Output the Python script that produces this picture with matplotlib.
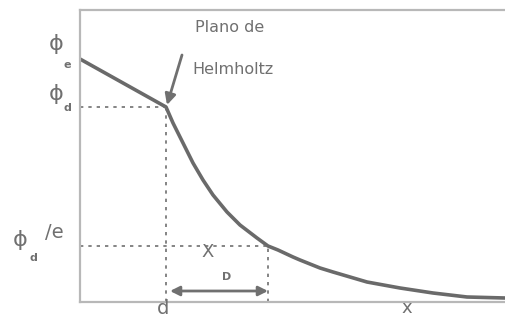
import matplotlib
matplotlib.use('Agg')
import matplotlib.pyplot as plt

# potential profile (distance, potential), arbitrary units
dist = [0.0, 8.6, 9.3, 10.3, 11.3, 12.3, 13.3, 14.7, 16.0, 17.7, 18.8, 19.8,
        21.3, 22.0, 24.0, 25.3, 28.7, 32.0, 35.3, 38.7, 42.5]
phi = [24.3, 19.5, 17.9, 15.9, 13.9, 12.2, 10.7, 9.0, 7.7, 6.4, 5.6, 5.2,
       4.5, 4.2, 3.4, 3.0, 2.0, 1.4, 0.9, 0.5, 0.4]

d_pos = 8.6       # Helmholtz plane
xD_pos = 18.8     # d + Debye length
phi_d = 19.5
phi_d_e = 5.6

gray = '#707070'
axis_gray = '#b8b8b8'

fig = plt.figure(figsize=(5.05, 3.2), dpi=100)
ax = fig.add_axes([80 / 505, 18 / 320, 425 / 505, 292 / 320])
ax.set_xlim(0, 42.5)
ax.set_ylim(0, 29.2)

ax.plot(dist, phi, color='#6a6a6a', lw=2.6, solid_capstyle='round',
        solid_joinstyle='round')

# dotted guides
dots = dict(color=gray, lw=1.2, linestyle=(0, (2, 3)))
ax.plot([0, d_pos], [phi_d, phi_d], **dots)
ax.plot([d_pos, d_pos], [0, phi_d], **dots)
ax.plot([0, xD_pos], [phi_d_e, phi_d_e], **dots)
ax.plot([xD_pos, xD_pos], [0, phi_d_e], **dots)

# arrows
ax.annotate('', xy=(d_pos + 0.4, 1.1), xytext=(xD_pos, 1.1),
            arrowprops=dict(arrowstyle='<|-|>', color=gray, lw=2,
                            mutation_scale=14, shrinkA=0, shrinkB=0))
ax.annotate('', xy=(d_pos + 0.1, 19.7), xytext=(10.2, 24.7),
            arrowprops=dict(arrowstyle='-|>', color=gray, lw=2,
                            mutation_scale=16, shrinkA=0, shrinkB=0))

txt = dict(color=gray, ha='center', va='center', clip_on=False)
ax.text(15.0, 27.5, 'Plano de', fontsize=11.5, **txt)
ax.text(15.3, 23.2, 'Helmholtz', fontsize=11.5, **txt)
ax.text(12.8, 5.0, 'X', fontsize=13, **txt)
ax.text(14.7, 2.5, 'D', fontsize=8, fontweight='bold', **txt)
ax.text(8.3, -0.7, 'd', fontsize=14, **txt)
ax.text(32.7, -0.6, 'x', fontsize=13, **txt)

# left-side labels
ax.text(-2.4, 25.8, 'ϕ', fontsize=16, **txt)
ax.text(-1.3, 23.7, 'e', fontsize=8, fontweight='bold', **txt)
ax.text(-2.4, 20.8, 'ϕ', fontsize=16, **txt)
ax.text(-1.3, 19.4, 'd', fontsize=8, fontweight='bold', **txt)
ax.text(-6.0, 6.2, 'ϕ', fontsize=16, **txt)
ax.text(-4.7, 4.4, 'd', fontsize=8, fontweight='bold', **txt)
ax.text(-2.6, 7.0, '/e', fontsize=14, **txt)

ax.set_xticks([])
ax.set_yticks([])
ax.spines['right'].set_visible(False)
for s in ['left', 'bottom', 'top']:
    ax.spines[s].set_color(axis_gray)
    ax.spines[s].set_linewidth(1.6)

fig.savefig('out.png', dpi=100)
